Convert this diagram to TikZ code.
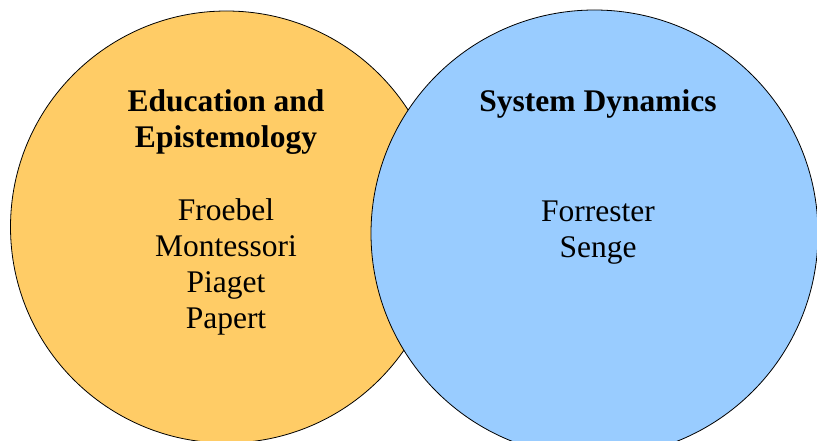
\documentclass[tikz,border=0pt]{standalone}
\usepackage{fontspec}
\setmainfont{Liberation Serif}
\usepackage{tikz}
\usetikzlibrary{positioning}
\definecolor{eduorange}{RGB}{255,204,102}
\definecolor{sdblue}{RGB}{153,204,255}
\tikzset{x=1pt, y=-1pt, every node/.style={font=\fontsize{31.5}{36}\selectfont, align=center},
	field/.style={circle, draw, line width=0.8pt, inner sep=0pt}, heading/.style={font=\fontsize{31.5}{36}\selectfont\bfseries}}

\begin{document}
\begin{tikzpicture}
	\useasboundingbox (0,0) rectangle (817,441);
	\node[field, fill=eduorange, minimum size=432pt] (Education) at (226.5,227) {};
	\node[field, fill=sdblue, minimum size=447pt] (Dynamics) at (594.5,233.5) {};
	
	\node[heading, anchor=base] (EduTitle) at (226,148) {Education and\\Epistemology};
	\node[anchor=base] (EduNames) at (226,328) {Froebel\\Montessori\\Piaget\\Papert};
	\node[heading, anchor=base] (SDTitle) at (598,112) {System Dynamics};
	\node[anchor=base] (SDNames) at (598,257) {Forrester\\Senge};
\end{tikzpicture}
\end{document}
